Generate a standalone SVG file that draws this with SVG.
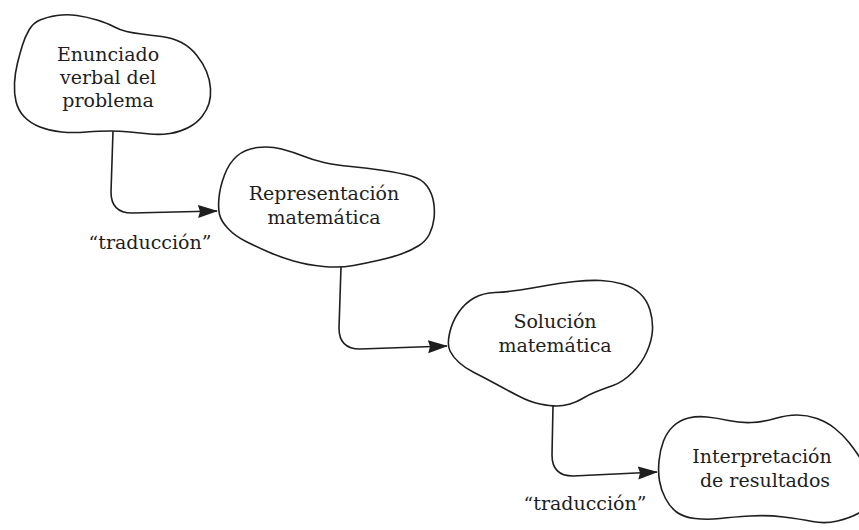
<svg xmlns="http://www.w3.org/2000/svg" width="859" height="530" viewBox="0 0 859 530">
<style>
.blob{fill:#fff;stroke:#1e1e1e;stroke-width:1.6;stroke-linejoin:round}
.conn{fill:none;stroke:#1e1e1e;stroke-width:1.6}
text{font-family:"DejaVu Serif","Liberation Serif",serif;font-size:19px;fill:#1e1e1e;text-anchor:middle}
</style>
<defs>
<marker id="arr" markerUnits="userSpaceOnUse" markerWidth="22" markerHeight="14" refX="19" refY="6.5" orient="auto" viewBox="0 0 22 14">
<path d="M0,0 L20,6.5 L0,13 L2,6.5 Z" fill="#1e1e1e"/>
</marker>
</defs>
<rect width="859" height="530" fill="#fff"/>
<g id="connectors">
<path class="conn" d="M113,131 L111,192 Q111,213 132,213 L217,211" marker-end="url(#arr)"/>
<path class="conn" d="M341,267 L339,328 Q339,349 360,349 L447,346" marker-end="url(#arr)"/>
<path class="conn" d="M553,406 L552,455 Q552,476 573,476 L657,472" marker-end="url(#arr)"/>
</g>
<g id="node1">
<path class="blob" d="M22.5,45 Q25,37 29,30 Q33,23 40,20 Q47,17 57,15.5 Q67,14 77,15.5 Q87,17 97,20 Q107,23 113.5,26.5 Q120,30 126.5,31.5 Q133,33 141.5,34 Q150,35 161.5,36.5 Q173,38 181.5,42.5 Q190,47 196.5,55 Q203,63 206.5,71.5 Q210,80 210.5,88.5 Q211,97 209,103.5 Q207,110 202,116.5 Q197,123 188.5,127.5 Q180,132 170,133.5 Q160,135 150,134 Q140,133 130,132 Q120,131 110,131 Q100,131 86.5,132 Q73,133 61.5,132 Q50,131 40,127 Q30,123 24,116.5 Q18,110 16,101.5 Q14,93 14.5,83 Q15,73 17.5,63 Q20,53 22.5,45 Z"/>
<text x="108" y="61">Enunciado</text>
<text x="108" y="84">verbal del</text>
<text x="108" y="107">problema</text>
</g>
<g id="node2">
<path class="blob" d="M219.5,214.5 Q218,208 219,197.5 Q220,187 224.5,175 Q229,163 237,156 Q245,149 257.5,147.5 Q270,146 281.5,149 Q293,152 303,156 Q313,160 324,162.5 Q335,165 351,166.5 Q367,168 383.5,170.5 Q400,173 411,176 Q422,179 427,186 Q432,193 433.5,201.5 Q435,210 434,218.5 Q433,227 429.5,234 Q426,241 419,245.5 Q412,250 402.5,253.5 Q393,257 380,260 Q367,263 353.5,265.5 Q340,268 323.5,266.5 Q307,265 293.5,261 Q280,257 268.5,252 Q257,247 246,241.5 Q235,236 228,228.5 Q221,221 219.5,214.5 Z"/>
<text x="324" y="200">Representación</text>
<text x="324" y="224">matemática</text>
</g>
<g id="node3">
<path class="blob" d="M450,351 Q447,345 449.5,333.5 Q452,322 458.5,312.5 Q465,303 474,298 Q483,293 495,292.5 Q507,292 520,290 Q533,288 546.5,285.5 Q560,283 575,281.5 Q590,280 601,280.5 Q612,281 622.5,284 Q633,287 640,293.5 Q647,300 650,310 Q653,320 652.5,330 Q652,340 647,351.5 Q642,363 632.5,372.5 Q623,382 613,385.5 Q603,389 595.5,392 Q588,395 582.5,398.5 Q577,402 570,404 Q563,406 556.5,406 Q550,406 540,404 Q530,402 518.5,396 Q507,390 495,383.5 Q483,377 474,372.5 Q465,368 459,362.5 Q453,357 450,351 Z"/>
<text x="555" y="328">Solución</text>
<text x="555" y="352">matemática</text>
</g>
<g id="node4">
<path class="blob" d="M659.5,481 Q658,472 659,461 Q660,450 663.5,441 Q667,432 673.5,426 Q680,420 688.5,418 Q697,416 707,417 Q717,418 728.5,420.5 Q740,423 751.5,422.5 Q763,422 775,418.5 Q787,415 797,415 Q807,415 817,418.5 Q827,422 835,428.5 Q843,435 849,442.5 Q855,450 861.5,460 Q868,470 871,481 Q874,492 871,500 Q868,508 859,513 Q850,518 837.5,521 Q825,524 812.5,521.5 Q800,519 783.5,517 Q767,515 750,516 Q733,517 720,518.5 Q707,520 695,518.5 Q683,517 676.5,512 Q670,507 665.5,498.5 Q661,490 659.5,481 Z"/>
<text x="762" y="463">Interpretación</text>
<text x="765" y="487">de resultados</text>
</g>
<g id="labels">
<text x="150" y="249">“traducción”</text>
<text x="585" y="510">“traducción”</text>
</g>
</svg>
